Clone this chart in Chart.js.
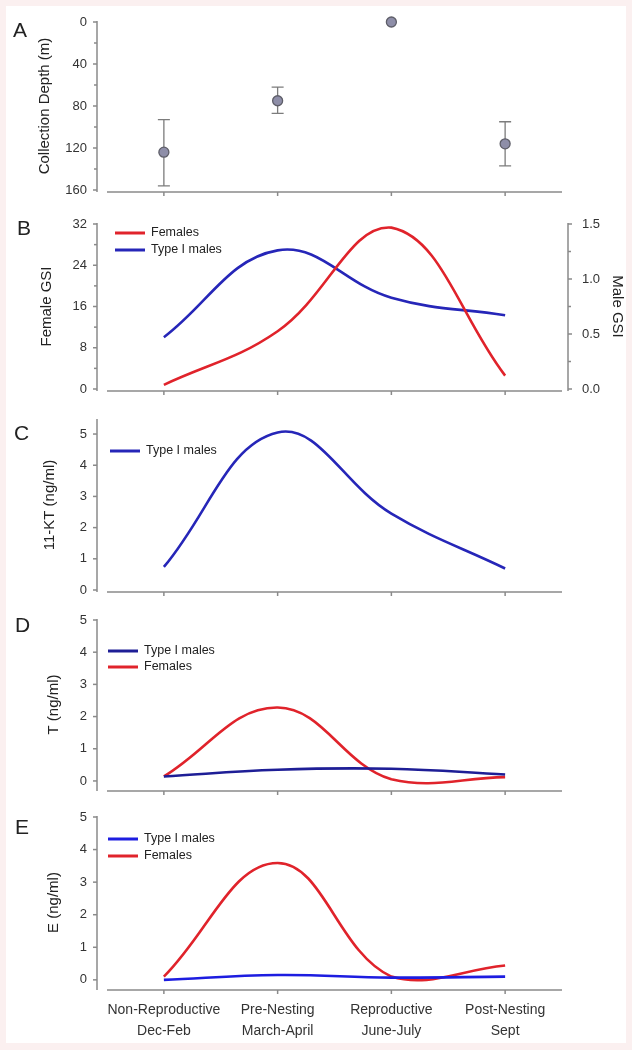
<!DOCTYPE html>
<html>
<head>
<meta charset="utf-8">
<script src="https://cdn.jsdelivr.net/npm/chart.js@4.4.1/dist/chart.umd.min.js"></script>
<style>
  html, body { margin: 0; padding: 0; }
  body {
    width: 632px; height: 1050px; position: relative; overflow: hidden;
    background: #fbf0f0; font-family: "Liberation Sans", Arial, sans-serif;
  }
  #sheet { position: absolute; left: 6px; top: 6px; width: 620px; height: 1037px; background: #fff; }
  canvas { position: absolute; left: 0; }
  .letter { position: absolute; font-size: 21px; line-height: 21px; color: #222; }
</style>
</head>
<body>
<div id="sheet"></div>
<canvas id="chart-a" width="632" height="205" style="top:0px"></canvas>
<canvas id="chart-b" width="632" height="195" style="top:205px"></canvas>
<canvas id="chart-c" width="632" height="200" style="top:400px"></canvas>
<canvas id="chart-d" width="632" height="200" style="top:600px"></canvas>
<canvas id="chart-e" width="632" height="250" style="top:800px"></canvas>
<div class="letter" style="left:13px; top:19px">A</div>
<div class="letter" style="left:17px; top:217px">B</div>
<div class="letter" style="left:14px; top:422px">C</div>
<div class="letter" style="left:15px; top:614px">D</div>
<div class="letter" style="left:15px; top:816px">E</div>
<script>
// categories (two line labels on the bottom panel)
const seasons = [
    ["Non-Reproductive", "Dec-Feb"],
    ["Pre-Nesting", "March-April"],
    ["Reproductive", "June-July"],
    ["Post-Nesting", "Sept"]
];

// A - collection depth (m), mean and error bar ends
const depthMean = [124, 75, 0, 116];
const depthTop = [93, 62, null, 95];
const depthBottom = [156, 87, null, 137];
const depthTicks = [0, 40, 80, 120, 160];
const depthMinor = [20, 60, 100, 140];

// B - gonadosomatic index
const gsiFemales = [0.8, 11.2, 31.3, 2.6];
const gsiMales = [0.47, 1.26, 0.83, 0.67];
const femaleGsiTicks = [0, 8, 16, 24, 32];
const femaleGsiMinor = [4, 12, 20, 28];
const maleGsiTicks = [0, 0.5, 1.0, 1.5];
const maleGsiMinor = [0.25, 0.75, 1.25];

// C - 11-KT
const ktMales = [0.74, 5.05, 2.45, 0.69];

// D - testosterone
const tMales = [0.14, 0.35, 0.38, 0.2];
const tFemales = [0.14, 2.28, 0.05, 0.12];

// E - estradiol
const eMales = [0.0, 0.15, 0.07, 0.1];
const eFemales = [0.1, 3.59, 0.1, 0.44];

const hormoneTicks = [0, 1, 2, 3, 4, 5];

const fontFamily = '"Liberation Sans", Arial, sans-serif';
const red = "#e0232b";
const blue = "#2626b8";
const axisGrey = "#8a8a8a";
const textColor = "#333";

Chart.defaults.font.family = fontFamily;
Chart.defaults.animation = false;
Chart.defaults.events = [];

// axis lines sit a bit away from the plot, sigmaplot style
const sigmaAxes = {
    id: "sigmaAxes",
    afterDraw(chart, args, opts) {
        const { ctx, chartArea: area, scales } = chart;
        const draw = (x1, y1, x2, y2) => {
            ctx.beginPath();
            ctx.moveTo(x1, y1);
            ctx.lineTo(x2, y2);
            ctx.stroke();
        };
        ctx.save();
        ctx.strokeStyle = axisGrey;
        ctx.lineWidth = 1.5;
        const yLine = area.left - 10;
        const xLine = area.bottom + 2;

        draw(yLine, area.top - 1, yLine, xLine);
        scales.y.ticks.forEach(t => {
            const p = scales.y.getPixelForValue(t.value);
            draw(yLine - 4, p, yLine, p);
        });
        (opts.minor || []).forEach(v => {
            const p = scales.y.getPixelForValue(v);
            draw(yLine - 3, p, yLine, p);
        });

        draw(area.left, xLine, area.right, xLine);
        scales.x.ticks.forEach((t, i) => {
            const p = scales.x.getPixelForTick(i);
            draw(p, xLine, p, xLine + 4);
        });

        if (scales.y2) {
            const rLine = area.right + 6;
            draw(rLine, area.top - 1, rLine, xLine);
            scales.y2.ticks.forEach(t => {
                const p = scales.y2.getPixelForValue(t.value);
                draw(rLine, p, rLine + 4, p);
            });
            (opts.minorRight || []).forEach(v => {
                const p = scales.y2.getPixelForValue(v);
                draw(rLine, p, rLine + 3, p);
            });
        }
        ctx.restore();
    }
};

// small legend inside the plot, line sample + label
const lineLegend = {
    id: "lineLegend",
    afterDraw(chart, args, opts) {
        if (!opts.show) return;
        const { ctx, chartArea: area } = chart;
        ctx.save();
        ctx.font = "12.5px " + fontFamily;
        ctx.textBaseline = "middle";
        ctx.fillStyle = "#222";
        chart.data.datasets.forEach((ds, i) => {
            const x = area.left + opts.dx;
            const y = area.top + opts.dy + i * opts.gap;
            ctx.strokeStyle = ds.borderColor;
            ctx.lineWidth = 3;
            ctx.beginPath();
            ctx.moveTo(x, y);
            ctx.lineTo(x + 30, y);
            ctx.stroke();
            ctx.fillText(ds.label, x + 36, y);
        });
        ctx.restore();
    }
};

// error bars for the depth panel
const depthErrors = {
    id: "depthErrors",
    beforeDatasetsDraw(chart) {
        const { ctx, scales } = chart;
        ctx.save();
        ctx.strokeStyle = "#7c7c7c";
        ctx.lineWidth = 1.3;
        depthTop.forEach((lo, i) => {
            const hi = depthBottom[i];
            if (lo == null || hi == null) return;
            const x = scales.x.getPixelForValue(i);
            const y1 = scales.y.getPixelForValue(lo);
            const y2 = scales.y.getPixelForValue(hi);
            ctx.beginPath();
            ctx.moveTo(x, y1); ctx.lineTo(x, y2);
            ctx.moveTo(x - 6, y1); ctx.lineTo(x + 6, y1);
            ctx.moveTo(x - 6, y2); ctx.lineTo(x + 6, y2);
            ctx.stroke();
        });
        ctx.restore();
    }
};

function xScale(showLabels, height) {
    return {
        type: "category",
        offset: true,
        grid: { display: false, drawTicks: false },
        border: { display: false },
        afterFit: s => { s.height = height; },
        ticks: {
            display: showLabels,
            padding: 12,
            color: textColor,
            maxRotation: 0,
            autoSkip: false,
            font: { size: 14, lineHeight: 1.5 }
        }
    };
}

// tick marks are drawn by sigmaAxes, the hidden tickLength only pushes the labels out
function yScale(tickList, title, titlePad, min, max, extra) {
    return Object.assign({
        position: "left",
        min: min,
        max: max,
        grid: { display: false, drawTicks: true, tickLength: 18 },
        border: { display: false },
        afterFit: s => { s.width = 107; },
        afterBuildTicks: s => { s.ticks = tickList.map(v => ({ value: v })); },
        ticks: { padding: 2, color: textColor, font: { size: 13 } },
        title: {
            display: true,
            text: title,
            color: "#222",
            font: { size: 15 },
            padding: { top: titlePad, bottom: 0 }
        }
    }, extra || {});
}

function curve(label, data, color, axis) {
    return {
        label: label,
        data: data,
        borderColor: color,
        backgroundColor: color,
        borderWidth: 2.6,
        pointRadius: 0,
        tension: 0.4,
        fill: false,
        yAxisID: axis || "y"
    };
}

// A
new Chart(document.getElementById("chart-a"), {
    type: "line",
    data: {
        labels: seasons,
        datasets: [{
            data: depthMean,
            showLine: false,
            pointRadius: 5,
            pointBackgroundColor: "#8e8ea8",
            pointBorderColor: "#5e5e68",
            pointBorderWidth: 1.3,
            clip: false
        }]
    },
    options: {
        responsive: false,
        layout: { padding: { top: 22, bottom: 5, left: 0, right: 70 } },
        plugins: { legend: { display: false }, tooltip: { enabled: false }, sigmaAxes: { minor: depthMinor } },
        scales: {
            x: xScale(false, 10),
            y: yScale(depthTicks, "Collection Depth (m)", 36, 0, 160, { reverse: true })
        }
    },
    plugins: [depthErrors, sigmaAxes]
});

// B
new Chart(document.getElementById("chart-b"), {
    type: "line",
    data: {
        labels: seasons,
        datasets: [
            curve("Females", gsiFemales, red, "y"),
            curve("Type I males", gsiMales, blue, "y2")
        ]
    },
    options: {
        responsive: false,
        layout: { padding: { top: 19, bottom: 1, left: 0, right: 0 } },
        plugins: {
            legend: { display: false },
            tooltip: { enabled: false },
            sigmaAxes: { minor: femaleGsiMinor, minorRight: maleGsiMinor },
            lineLegend: { show: true, dx: 8, dy: 9, gap: 17 }
        },
        scales: {
            x: xScale(false, 10),
            y: yScale(femaleGsiTicks, "Female GSI", 38, 0, 32),
            y2: yScale(maleGsiTicks, "Male GSI", 6, 0, 1.5, {
                position: "right",
                afterFit: s => { s.width = 70; },
                ticks: { padding: 2, color: textColor, font: { size: 13 }, callback: v => Number(v).toFixed(1) }
            })
        }
    },
    plugins: [sigmaAxes, lineLegend]
});

// C
new Chart(document.getElementById("chart-c"), {
    type: "line",
    data: {
        labels: seasons,
        datasets: [curve("Type I males", ktMales, blue)]
    },
    options: {
        responsive: false,
        layout: { padding: { top: 20, bottom: 0, left: 0, right: 70 } },
        plugins: {
            legend: { display: false },
            tooltip: { enabled: false },
            lineLegend: { show: true, dx: 3, dy: 31, gap: 17 }
        },
        scales: {
            x: xScale(false, 10),
            y: yScale(hormoneTicks, "11-KT (ng/ml)", 41, 0, 5.45)
        }
    },
    plugins: [sigmaAxes, lineLegend]
});

// D
new Chart(document.getElementById("chart-d"), {
    type: "line",
    data: {
        labels: seasons,
        datasets: [
            curve("Type I males", tMales, "#1e1e96"),
            curve("Females", tFemales, red)
        ]
    },
    options: {
        responsive: false,
        layout: { padding: { top: 20, bottom: 1, left: 0, right: 70 } },
        plugins: {
            legend: { display: false },
            tooltip: { enabled: false },
            lineLegend: { show: true, dx: 1, dy: 31, gap: 16 }
        },
        scales: {
            x: xScale(false, 10),
            y: yScale(hormoneTicks, "T (ng/ml)", 45, -0.25, 5)
        }
    },
    plugins: [sigmaAxes, lineLegend]
});

// E
new Chart(document.getElementById("chart-e"), {
    type: "line",
    data: {
        labels: seasons,
        datasets: [
            curve("Type I males", eMales, "#1d1de0"),
            curve("Females", eFemales, red)
        ]
    },
    options: {
        responsive: false,
        layout: { padding: { top: 17, bottom: 7, left: 0, right: 70 } },
        plugins: {
            legend: { display: false },
            tooltip: { enabled: false },
            lineLegend: { show: true, dx: 1, dy: 22, gap: 17 }
        },
        scales: {
            x: xScale(true, 55),
            y: yScale(hormoneTicks, "E (ng/ml)", 45, -0.25, 5)
        }
    },
    plugins: [sigmaAxes, lineLegend]
});
</script>
</body>
</html>
